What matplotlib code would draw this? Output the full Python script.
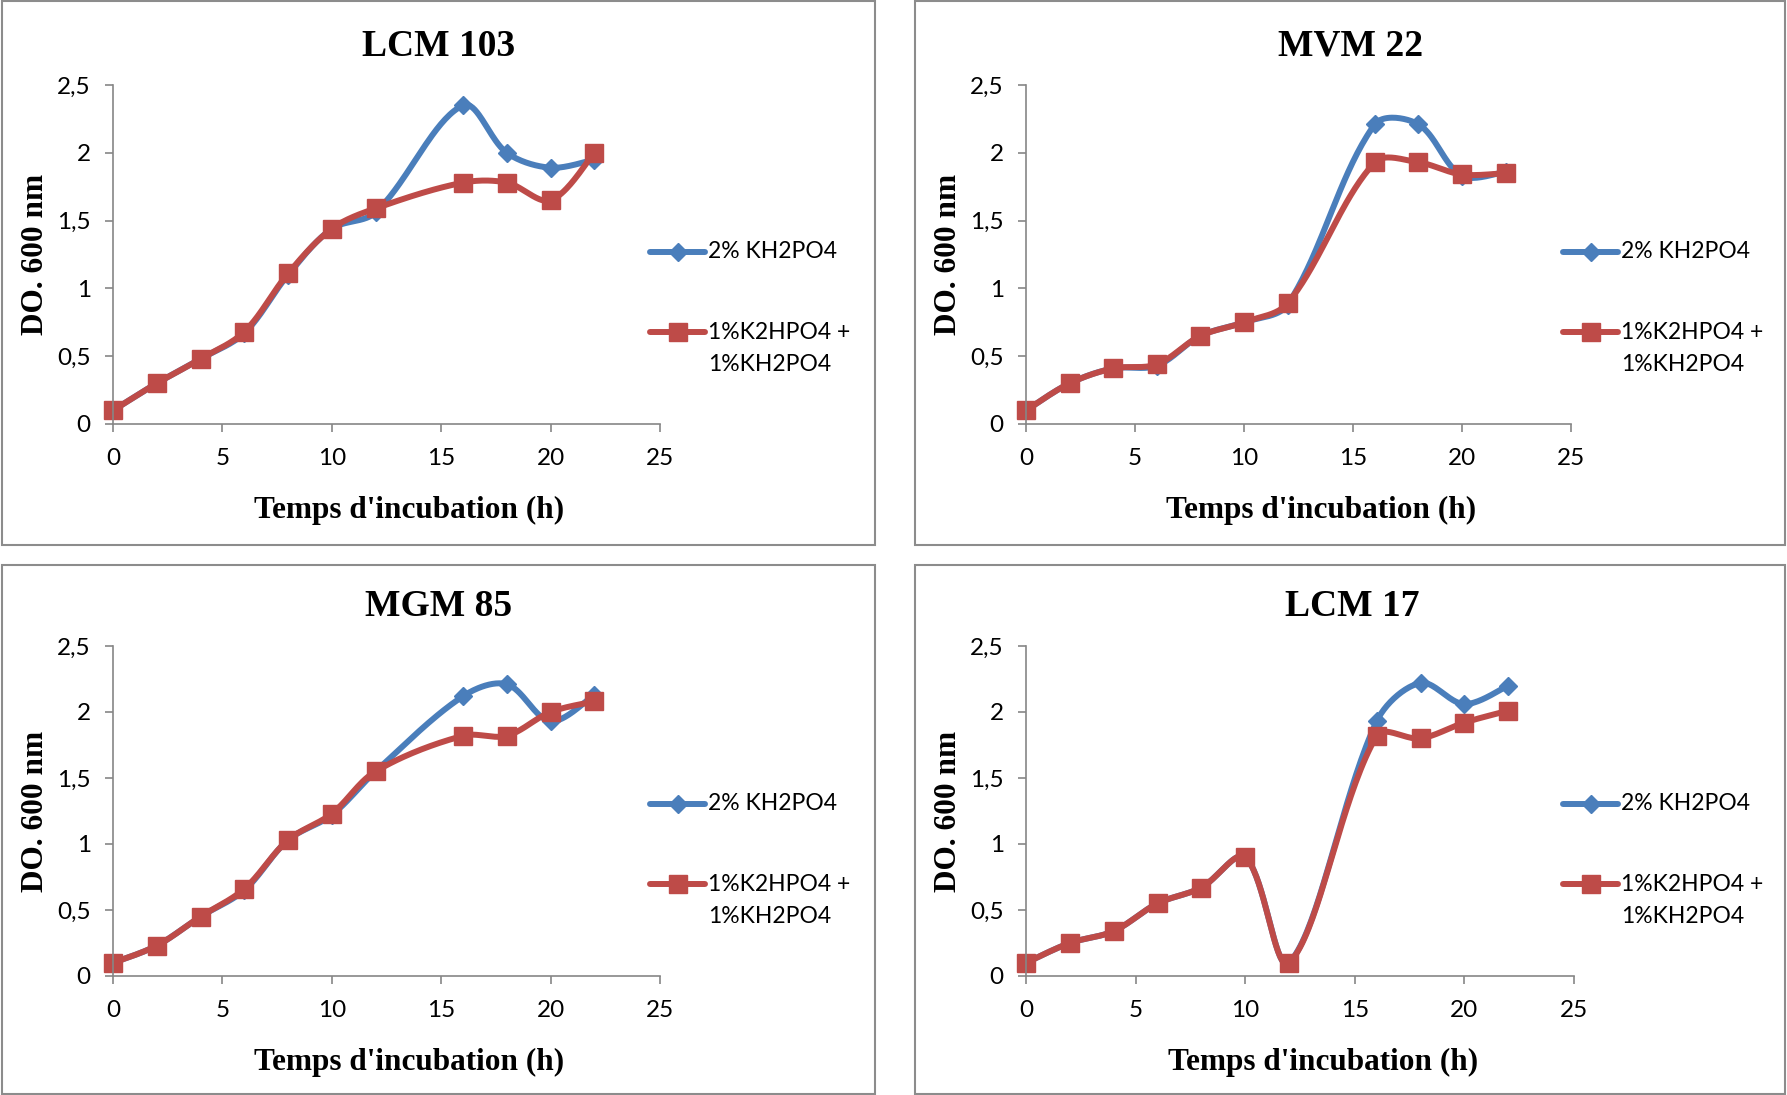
import numpy as np
import matplotlib.pyplot as plt
from matplotlib.patches import Rectangle

# taille de la figure en pixels
W, H = 1787, 1095

temps = [0, 2, 4, 6, 8, 10, 12, 16, 18, 20, 22]

titres = ['LCM 103', 'MVM 22', 'MGM 85', 'LCM 17']
serie_1 = '2% KH2PO4'
serie_2 = '1%K2HPO4 +\n1%KH2PO4'

# DO 600 nm
kh2po4_lcm103 = [0.10, 0.30, 0.48, 0.67, 1.10, 1.44, 1.56, 2.35, 2.00, 1.89, 1.95]
mix_lcm103 = [0.10, 0.30, 0.48, 0.68, 1.11, 1.44, 1.59, 1.78, 1.78, 1.65, 2.00]

kh2po4_mvm22 = [0.10, 0.30, 0.41, 0.43, 0.65, 0.75, 0.88, 2.21, 2.21, 1.83, 1.86]
mix_mvm22 = [0.10, 0.30, 0.41, 0.44, 0.65, 0.75, 0.89, 1.93, 1.93, 1.84, 1.85]

kh2po4_mgm85 = [0.10, 0.23, 0.45, 0.65, 1.03, 1.22, 1.55, 2.12, 2.21, 1.93, 2.13]
mix_mgm85 = [0.10, 0.23, 0.45, 0.66, 1.03, 1.23, 1.55, 1.82, 1.82, 2.00, 2.08]

kh2po4_lcm17 = [0.10, 0.25, 0.34, 0.55, 0.67, 0.90, 0.10, 1.93, 2.22, 2.06, 2.20]
mix_lcm17 = [0.10, 0.25, 0.34, 0.55, 0.67, 0.90, 0.10, 1.82, 1.80, 1.92, 2.01]

y_ticks = [0, 0.5, 1, 1.5, 2, 2.5]
y_labels = ['0', '0,5', '1', '1,5', '2', '2,5']
x_ticks = [0, 5, 10, 15, 20, 25]

bleu = '#4A7EBB'
rouge = '#BE4B48'
gris = '#868686'

# rectangles des axes (gauche, haut, droite, bas) et cadres, en pixels
axes_px = [(113, 85, 660, 424), (1026, 85, 1571, 424),
           (113, 646, 660, 976), (1026, 646, 1574, 976)]
cadres_px = [(2, 1, 875, 545), (915, 1, 1785, 545),
             (2, 565, 875, 1094), (915, 565, 1785, 1094)]


def lisser(x, y, sx, sy, n=40):
    # courbe lissée façon Excel : Bézier, tangentes pondérées par la longueur
    # des segments (calcul en pixels, sx / sy = pixels par unité)
    pts = np.column_stack([np.asarray(x, float) * sx, np.asarray(y, float) * sy])
    m = len(pts)
    d = np.hypot(*np.diff(pts, axis=0).T)
    sortie = np.zeros_like(pts)
    entree = np.zeros_like(pts)
    for i in range(m):
        if i == 0:
            sortie[i] = (pts[1] - pts[0]) / 6
        elif i == m - 1:
            entree[i] = (pts[-1] - pts[-2]) / 6
        else:
            tg = pts[i + 1] - pts[i - 1]
            tot = d[i - 1] + d[i]
            sortie[i] = tg * d[i] / tot / 3
            entree[i] = tg * d[i - 1] / tot / 3
    t = np.linspace(0, 1, n)[:, None]
    out = []
    for i in range(m - 1):
        p0, p3 = pts[i], pts[i + 1]
        c1 = p0 + sortie[i]
        c2 = p3 - entree[i + 1]
        seg = ((1 - t) ** 3 * p0 + 3 * (1 - t) ** 2 * t * c1
               + 3 * (1 - t) * t ** 2 * c2 + t ** 3 * p3)
        out.append(seg if i == 0 else seg[1:])
    out = np.vstack(out)
    return out[:, 0] / sx, out[:, 1] / sy


def fx(px):
    return px / W


def fy(py):
    return 1 - py / H


donnees = [(kh2po4_lcm103, mix_lcm103), (kh2po4_mvm22, mix_mvm22),
           (kh2po4_mgm85, mix_mgm85), (kh2po4_lcm17, mix_lcm17)]

fig = plt.figure(figsize=(W / 100, H / 100), dpi=100)
fig.patch.set_facecolor('white')

for k in range(4):
    l, t, r, b = axes_px[k]
    ax = fig.add_axes([fx(l), fy(b), (r - l) / W, (b - t) / H])
    s1, s2 = donnees[k]
    sx = (r - l) / 25
    sy = (b - t) / 2.5

    for serie, coul, mk, ms in [(s1, bleu, 'D', 9.5), (s2, rouge, 's', 13.5)]:
        xs, ys = lisser(temps, serie, sx, sy)
        ax.plot(xs, ys, color=coul, lw=4.3, solid_capstyle='round', clip_on=False)
        ax.plot(temps, serie, ls='none', marker=mk, ms=ms, color=coul,
                mec=coul, clip_on=False)

    ax.set_xlim(0, 25)
    ax.set_ylim(0, 2.5)
    ax.set_xticks(x_ticks)
    ax.set_yticks(y_ticks)
    ax.set_yticklabels(y_labels)
    for side in ['top', 'right']:
        ax.spines[side].set_visible(False)
    for side in ['left', 'bottom']:
        ax.spines[side].set_color(gris)
        ax.spines[side].set_linewidth(1.2)
    ax.tick_params(axis='both', direction='out', length=6, width=1.2, color=gris,
                   labelsize=17.5, labelcolor='black')
    ax.tick_params(axis='y', pad=10)
    ax.tick_params(axis='x', pad=11)
    for lab in ax.get_xticklabels() + ax.get_yticklabels():
        lab.set_family('Lato')
    ax.patch.set_alpha(0)

    # cadre autour du graphique
    c = cadres_px[k]
    fig.patches.append(Rectangle((fx(c[0]), fy(c[3])), (c[2] - c[0]) / W,
                                 (c[3] - c[1]) / H, transform=fig.transFigure,
                                 fill=False, edgecolor='#8C8C8C', lw=1.5))

    cx = (l + r) / 2
    fig.text(fx(cx + 52), fy(t - 39), titres[k], ha='center', va='center',
             family='Liberation Serif', weight='bold', fontsize=27)
    fig.text(fx(cx + 23), fy(b + 86), "Temps d'incubation (h)", ha='center',
             va='center', family='Liberation Serif', weight='bold', fontsize=22.5)
    fig.text(fx(l - 77), fy((t + b) / 2), 'DO. 600 nm', ha='center', va='center',
             rotation=90, family='Liberation Serif', weight='bold', fontsize=22.5)

    # légende à droite
    entrees = [(bleu, 'D', 9.5, 172, serie_1, 172),
               (rouge, 's', 13.5, 92, serie_2, 75.5)]
    for coul, mk, ms, dy, lab, ty in entrees:
        fig.lines.append(plt.Line2D([fx(l + 537), fx(l + 592)], [fy(b - dy)] * 2,
                                    transform=fig.transFigure, color=coul, lw=4.3,
                                    solid_capstyle='round'))
        fig.lines.append(plt.Line2D([fx(l + 564.5)], [fy(b - dy)],
                                    transform=fig.transFigure, ls='none', marker=mk,
                                    ms=ms, color=coul))
        fig.text(fx(l + 595), fy(b - ty), lab, ha='left', va='center',
                 family='Lato', fontsize=16.5, linespacing=1.62)

plt.savefig('out.png', dpi=100)
